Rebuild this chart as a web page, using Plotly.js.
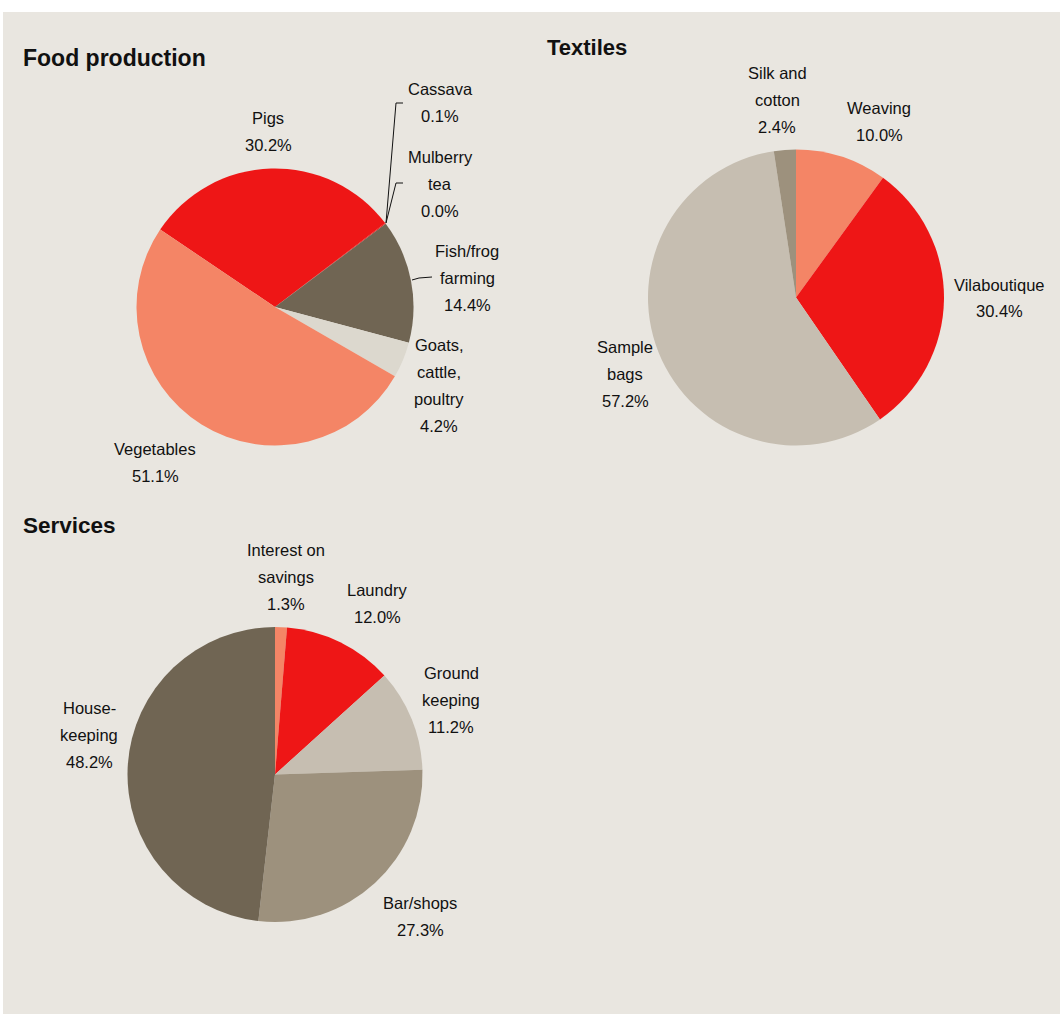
<!DOCTYPE html>
<html><head><meta charset="utf-8">
<script src="https://cdn.plot.ly/plotly-3.0.1.min.js"></script>
<style>html,body{margin:0;padding:0;background:#fff;} #chart{width:1060px;height:1014px;}</style>
</head><body><div id="chart"></div>
<script>
// ---- Data ----
const foodLabels = ["Pigs", "Cassava", "Mulberry\ntea", "Fish/frog\nfarming", "Goats,\ncattle,\npoultry", "Vegetables"];
const foodValues = [30.2, 0.1, 0.0, 14.4, 4.2, 51.1];

const textileLabels = ["Weaving", "Vilaboutique", "Sample\nbags", "Silk and\ncotton"];
const textileValues = [10.0, 30.4, 57.2, 2.4];

const serviceLabels = ["Interest on\nsavings", "Laundry", "Ground\nkeeping", "Bar/shops", "House-\nkeeping"];
const serviceValues = [1.3, 12.0, 11.2, 27.3, 48.2];

const panelTitles = ["Food production", "Textiles", "Services"];

// ---- Styling ----
const RED = "#EE1616", SALMON = "#F48566", DARK = "#706553", LIGHT = "#DCD8CE", TAN = "#C6BEB1", MID = "#9D917D";
const BG = "#E9E6E0";
const foodColors = [RED, RED, RED, DARK, LIGHT, SALMON];
const textileColors = [SALMON, RED, TAN, MID];
const serviceColors = [SALMON, RED, TAN, MID, DARK];

const W = 1060, H = 1014;
const px = x => x / W;
const py = y => 1 - y / H;

function narrowAvailable() {
  try {
    const c = document.createElement('canvas').getContext('2d');
    const s = 'Vilaboutique 30.4% Mulberry';
    c.font = '40px monospace';
    const a = c.measureText(s).width;
    c.font = '40px "Liberation Sans Narrow", monospace';
    const b = c.measureText(s).width;
    return Math.abs(a - b) > 1;
  } catch (e) { return false; }
}
const hasNarrow = narrowAvailable();
const labelFont = hasNarrow ? {family: '"Liberation Sans Narrow", "Liberation Sans", Arial, sans-serif', size: 20.5, color: '#111'}
                            : {family: '"Liberation Sans", Arial, sans-serif', size: 16.5, color: '#111'};
const LINE = 26.7;

// pie geometry (pixels): center and radius
const pies = [
  {labels: foodLabels, values: foodValues, colors: foodColors, cx: 275, cy: 307, r: 138.5, rot: -56,
   pos: [[268,131.5],[440,102.5],[440,184],[467,278],[439,385.5],[155,462.5]]},
  {labels: textileLabels, values: textileValues, colors: textileColors, cx: 796, cy: 297.5, r: 148, rot: 0,
   pos: [[879,121.5],[999,298],[625,374],[777,100]]},
  {labels: serviceLabels, values: serviceValues, colors: serviceColors, cx: 275, cy: 774.5, r: 147.5, rot: 0,
   pos: [[286,577],[377,603.5],[451,700],[420,916.5],[89,735]]}
];

const traces = [];
const annotations = [];
pies.forEach(p => {
  traces.push({
    type: 'pie',
    labels: p.labels.map(s => s.replace(/\n/g, ' ')),
    values: p.values,
    sort: false,
    direction: 'clockwise',
    rotation: p.rot,
    textinfo: 'none',
    hoverinfo: 'label+percent',
    showlegend: false,
    marker: {colors: p.colors, line: {width: 0}},
    domain: {x: [px(p.cx - p.r), px(p.cx + p.r)], y: [py(p.cy + p.r), py(p.cy - p.r)]}
  });
  p.labels.forEach((lab, i) => {
    const lines = lab.split('\n').concat([p.values[i].toFixed(1) + '%']);
    const n = lines.length;
    lines.forEach((ln, k) => {
      annotations.push({
        xref: 'paper', yref: 'paper',
        x: px(p.pos[i][0]), y: py(p.pos[i][1] + (k - (n - 1) / 2) * LINE),
        xanchor: 'center', yanchor: 'middle',
        text: ln, showarrow: false, font: labelFont
      });
    });
  });
});

const titlePos = [[21, 58], [544.5, 47], [21, 525]];
const titleSize = [23, 22, 22.5];
panelTitles.forEach((t, i) => {
  annotations.push({
    xref: 'paper', yref: 'paper', x: px(titlePos[i][0]), y: py(titlePos[i][1]),
    xanchor: 'left', yanchor: 'middle', text: '<b>' + t + '</b>', showarrow: false,
    font: {family: '"Liberation Sans", Arial, sans-serif', size: titleSize[i], color: '#111'}
  });
});

function path(pts) {
  return pts.map((q, i) => (i ? 'L' : 'M') + px(q[0]) + ',' + py(q[1])).join(' ');
}
const lineStyle = {color: '#111', width: 1};
const shapes = [
  {type: 'rect', xref: 'paper', yref: 'paper', x0: px(3), x1: 1, y0: 0, y1: py(12), fillcolor: BG, line: {width: 0}, layer: 'below'},
  {type: 'path', xref: 'paper', yref: 'paper', path: path([[386,223],[396,103],[403,103]]), line: lineStyle},
  {type: 'path', xref: 'paper', yref: 'paper', path: path([[386,223],[396,183],[403,183]]), line: lineStyle},
  {type: 'path', xref: 'paper', yref: 'paper', path: path([[412,280],[419,278],[432,277]]), line: lineStyle}
];

Plotly.newPlot('chart', traces, {
  width: W, height: H,
  margin: {l: 0, r: 0, t: 0, b: 0},
  paper_bgcolor: '#FFFFFF',
  plot_bgcolor: 'rgba(0,0,0,0)',
  annotations: annotations,
  shapes: shapes
}, {displayModeBar: false, staticPlot: true});
</script>
</body></html>
